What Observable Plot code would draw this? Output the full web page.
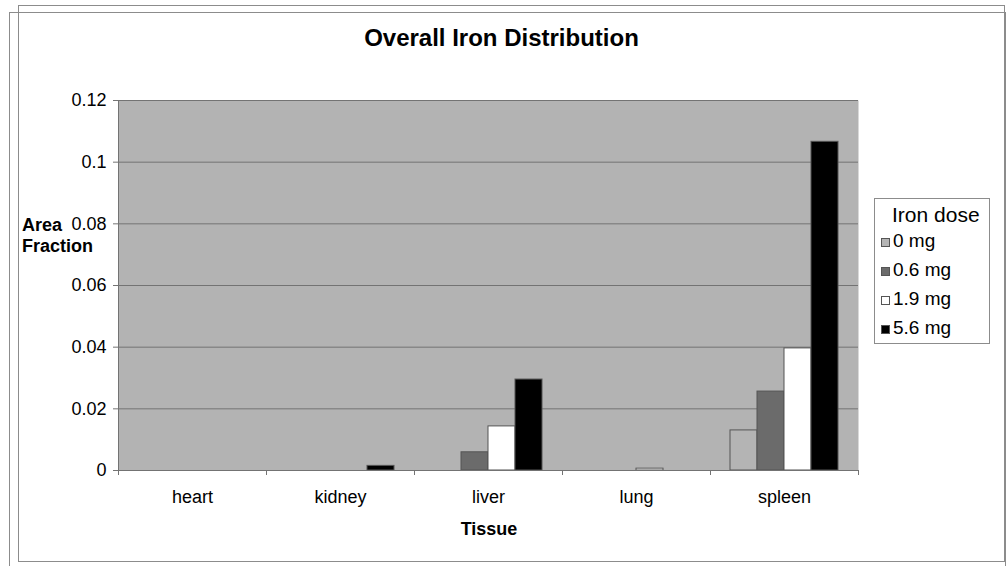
<!DOCTYPE html>
<html>
<head>
<meta charset="utf-8">
<script src="https://cdn.jsdelivr.net/npm/d3@7"></script>
<script src="https://cdn.jsdelivr.net/npm/@observablehq/plot@0.6"></script>
<style>
  body { margin: 0; background: #fff; font-family: "Liberation Sans", Arial, sans-serif; }
  #chart { position: relative; width: 1006px; height: 566px; overflow: hidden; background: #fff; }
  #chart svg { position: absolute; left: 0; top: 0; }
  .box { position: absolute; border: 1px solid #8c8c8c; box-sizing: border-box; }
  .txt { position: absolute; white-space: nowrap; color: #000; }
  .title { font-weight: bold; font-size: 24px; line-height: 24px; left: 0; width: 1003px; text-align: center; top: 25.5px; }
  .ylab { font-weight: bold; font-size: 18px; line-height: 21px; left: 22px; top: 215px; }
  .xlab { font-weight: bold; font-size: 18px; line-height: 18px; left: 389px; width: 200px; text-align: center; top: 520px; }
  #legend { position: absolute; left: 874px; top: 198px; width: 116px; height: 146px; border: 1px solid #8c8c8c; box-sizing: border-box; background: #fff; }
  #legend .lt { position: absolute; left: 17px; top: 5px; font-size: 21px; line-height: 21px; }
  #legend .row { position: absolute; left: 6px; height: 20px; font-size: 19px; line-height: 19px; }
  #legend .sw { display: inline-block; width: 9px; height: 9px; border: 1px solid #555; box-sizing: border-box; margin-right: 3px; vertical-align: 0px; }
</style>
</head>
<body>
<div id="chart">
  <div class="box" style="left:9px; top:12px; width:997px; height:560px;"></div>
  <div class="box" style="left:18px; top:5px; width:987px; height:557px;"></div>
  <div class="txt title">Overall Iron Distribution</div>
  <div class="txt ylab">Area<br>Fraction</div>
  <div class="txt xlab">Tissue</div>
  <div id="legend"></div>
</div>
<script>
// Overall iron distribution: stained area fraction per tissue at each iron dose
const tissues = ["heart", "kidney", "liver", "lung", "spleen"];
const doses = ["0 mg", "0.6 mg", "1.9 mg", "5.6 mg"];

// one array per dose, values in tissue order
const dose0mg  = [0, 0, 0, 0, 0.013];
const dose06mg = [0, 0, 0.0059, 0, 0.0256];
const dose19mg = [0, 0, 0.0143, 0.0006, 0.0396];
const dose56mg = [0, 0.0015, 0.0295, 0, 0.1066];

const yTicks = [0, 0.02, 0.04, 0.06, 0.08, 0.1, 0.12];
const yTickLabels = ["0", "0.02", "0.04", "0.06", "0.08", "0.1", "0.12"];

const doseFills = ["#b4b4b4", "#6b6b6b", "#ffffff", "#000000"];

const series = [dose0mg, dose06mg, dose19mg, dose56mg];
const rows = doses.map((dose, j) =>
  tissues.map((tissue, i) => ({tissue, dose, value: series[j][i]})).filter(d => d.value > 0)
);

// plot area geometry
const W = 1006, H = 566;
const mL = 118, mR = 148, mT = 100, mB = 96;
const band = (W - mL - mR) / tissues.length;
const barW = 27;
const groupPad = (band - doses.length * barW) / 2;

const barMarks = rows.map((data, j) =>
  Plot.barY(data, {
    x: "tissue",
    y: "value",
    fill: doseFills[j],
    stroke: "#555",
    strokeWidth: 1,
    insetLeft: groupPad + j * barW,
    insetRight: band - groupPad - (j + 1) * barW
  })
);

const chart = Plot.plot({
  width: W,
  height: H,
  marginLeft: mL,
  marginRight: mR,
  marginTop: mT,
  marginBottom: mB,
  style: {fontFamily: "'Liberation Sans', Arial, sans-serif", fontSize: "18px", color: "#000", background: "transparent", overflow: "visible"},
  x: {type: "band", domain: tissues, padding: 0, axis: null},
  y: {domain: [0, 0.12], axis: null},
  marks: [
    Plot.frame({fill: "#b3b3b3", stroke: null}),
    Plot.ruleY(yTicks.filter(v => v > 0), {stroke: "#737373", strokeWidth: 1}),
    ...barMarks,
    Plot.ruleY([0], {stroke: "#737373", strokeWidth: 1}),
    Plot.frame({anchor: "left", stroke: "#737373", strokeWidth: 1}),
    Plot.axisY({ticks: yTicks, tickSize: 5, tickPadding: 7, stroke: "#737373", tickFormat: (d, i) => yTickLabels[i], fill: "#000", fontSize: 18, label: null}),
    // category boundary ticks below the baseline
    Plot.axisX({ticks: tissues, tickSize: 5, dx: -band / 2, text: null, stroke: "#737373", label: null}),
    Plot.axisX({ticks: tissues.slice(-1), tickSize: 5, dx: band / 2, text: null, stroke: "#737373", label: null}),
    // category labels
    Plot.axisX({ticks: tissues, tickSize: 0, tickPadding: 20, fill: "#000", fontSize: 18, label: null})
  ]
});
document.getElementById("chart").prepend(chart);

// legend
const legend = document.getElementById("legend");
const lt = document.createElement("div");
lt.className = "txt lt";
lt.textContent = "Iron dose";
legend.appendChild(lt);
doses.forEach((dose, j) => {
  const row = document.createElement("div");
  row.className = "txt row";
  row.style.top = (31.5 + j * 29) + "px";
  const sw = document.createElement("span");
  sw.className = "sw";
  sw.style.background = doseFills[j];
  row.appendChild(sw);
  row.appendChild(document.createTextNode(dose));
  legend.appendChild(row);
});
</script>
</body>
</html>
